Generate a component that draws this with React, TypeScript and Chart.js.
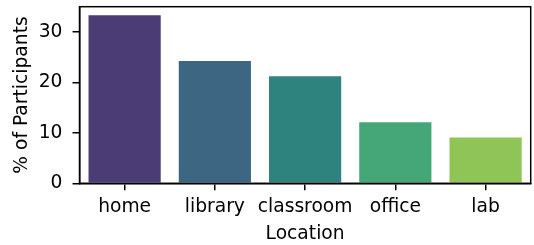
import React, { useEffect, useRef } from "react";
import { Chart, registerables } from "chart.js";

Chart.register(...registerables);

const categories = ["home", "library", "classroom", "office", "lab"];
const percentages = [33.33, 24.24, 21.21, 12.12, 9.09];
const barColors = ["#4b3c75", "#3d6682", "#2f837f", "#45a778", "#8fc557"];
const yTicks = [0, 10, 20, 30];

const FONT = "'DejaVu Sans', sans-serif";
const FS = 18.7;

export default function App() {
  const ref = useRef<HTMLCanvasElement | null>(null);
  useEffect(() => {
    document.body.style.margin = "0";
    const canvas = ref.current;
    if (!canvas) return;
    const frame = {
      id: "frame",
      afterDatasetsDraw(chart: any) {
        const { ctx, chartArea } = chart;
        ctx.save();
        ctx.strokeStyle = "#000";
        ctx.lineWidth = 1.5;
        ctx.strokeRect(chartArea.left, chartArea.top, chartArea.right - chartArea.left, chartArea.bottom - chartArea.top);
        ctx.restore();
      },
    };
    const chart = new Chart(canvas, {
      type: "bar",
      data: {
        labels: categories,
        datasets: [
          {
            data: percentages,
            backgroundColor: barColors,
            borderWidth: 0,
            categoryPercentage: 1,
            barPercentage: 0.8,
          },
        ],
      },
      options: {
        responsive: false,
        animation: false,
        devicePixelRatio: 1,
        layout: { padding: { top: 6.7, right: 3.3, left: 0, bottom: 0 } },
        plugins: { legend: { display: false }, tooltip: { enabled: false } },
        scales: {
          x: {
            offset: true,
            grid: { offset: false, drawOnChartArea: false, drawTicks: true, tickLength: 7, color: "#000", lineWidth: 1.5 },
            border: { display: true, color: "#000", width: 1.5 },
            ticks: { color: "#000", font: { family: FONT, size: FS }, padding: 5.5, maxRotation: 0, autoSkip: false },
            title: { display: true, text: "Location", color: "#000", font: { family: FONT, size: FS }, padding: { top: 0, bottom: -0.5 } },
            afterFit: (s: any) => { s.height = 61.7; s.paddingLeft = 0; s.paddingRight = 0; },
          },
          y: {
            min: 0,
            max: 35,
            afterBuildTicks: (s: any) => { s.ticks = yTicks.map((v) => ({ value: v })); },
            grid: { drawOnChartArea: false, drawTicks: true, tickLength: 7, color: "#000", lineWidth: 1.5 },
            border: { display: true, color: "#000", width: 1.5 },
            ticks: { color: "#000", font: { family: FONT, size: FS }, padding: 10 },
            title: { display: true, text: "% of Participants", color: "#000", font: { family: FONT, size: FS }, padding: { top: 10.5, bottom: 0 } },
            afterFit: (s: any) => { s.width = 79.5; s.paddingTop = 0; s.paddingBottom = 0; },
          },
        },
      },
      plugins: [frame],
    });
    return () => chart.destroy();
  }, []);
  return (
    <div style={{ width: 534, height: 245, background: "#fff" }}>
      <canvas ref={ref} width={534} height={245} style={{ display: "block" }} />
    </div>
  );
}
